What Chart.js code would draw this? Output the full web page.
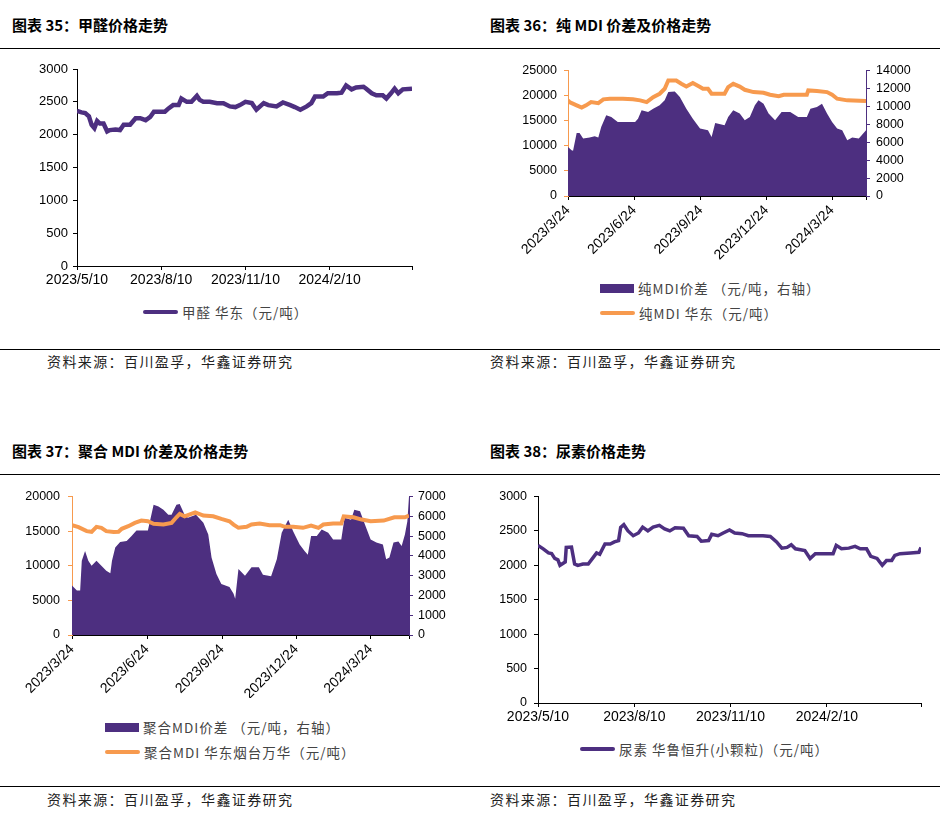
<!DOCTYPE html>
<html>
<head>
<meta charset="utf-8">
<script src="https://cdn.jsdelivr.net/npm/chart.js@4.4.1/dist/chart.umd.min.js"></script>
<style>
  body { margin: 0; background: #fff; width: 940px; height: 818px; position: relative; overflow: hidden; font-family: "Noto Sans CJK SC", sans-serif; }
  .t { position: absolute; font-weight: bold; font-size: 15px; line-height: 20px; color: #000; }
  .rule { position: absolute; left: 0; width: 940px; border-top: 1.5px solid #000; }
  .src { position: absolute; font-size: 14px; line-height: 20px; color: #222; letter-spacing: 1.4px; }
  .lg { position: absolute; height: 20px; font-size: 13.5px; color: #444; display: flex; align-items: center; white-space: pre; letter-spacing: 1px; }
  .box { width: 34px; height: 9px; background: #4D2F80; margin-right: 4px; }
  .ln { width: 35px; height: 4px; border-radius: 2px; margin-right: 4px; }
  canvas { position: absolute; }
</style>
</head>
<body>
<div class="t" style="left:12px;top:15px">图表 35：甲醛价格走势</div>
<div class="t" style="left:490px;top:15px">图表 36：纯 MDI 价差及价格走势</div>
<div class="t" style="left:12px;top:441px">图表 37：聚合 MDI 价差及价格走势</div>
<div class="t" style="left:490px;top:441px">图表 38：尿素价格走势</div>
<div class="rule" style="top:48px"></div>
<div class="rule" style="top:349px"></div>
<div class="rule" style="top:474px"></div>
<div class="rule" style="top:786px"></div>

<canvas id="c35" width="440" height="240" style="left:0;top:55px"></canvas>
<canvas id="c36" width="460" height="207" style="left:470px;top:56px"></canvas>
<canvas id="c37" width="455" height="217" style="left:0;top:481px"></canvas>
<canvas id="c38" width="460" height="249" style="left:470px;top:482px"></canvas>

<div class="lg" style="left:143px;top:302px"><div class="ln" style="background:#4D2F80"></div>甲醛 华东（元/吨）</div>
<div class="lg" style="left:600px;top:278px"><div class="box"></div>纯MDI价差 （元/吨，右轴）</div>
<div class="lg" style="left:600px;top:303px"><div class="ln" style="background:#F79A4E"></div>纯MDI 华东（元/吨）</div>
<div class="lg" style="left:105px;top:717px"><div class="box"></div>聚合MDI价差 （元/吨，右轴）</div>
<div class="lg" style="left:105px;top:742px"><div class="ln" style="background:#F79A4E"></div>聚合MDI 华东烟台万华（元/吨）</div>
<div class="lg" style="left:580px;top:739px"><div class="ln" style="background:#4D2F80"></div>尿素 华鲁恒升(小颗粒)（元/吨）</div>

<div class="src" style="left:47px;top:351px">资料来源：百川盈孚，华鑫证券研究</div>
<div class="src" style="left:490px;top:351px">资料来源：百川盈孚，华鑫证券研究</div>
<div class="src" style="left:47px;top:789px">资料来源：百川盈孚，华鑫证券研究</div>
<div class="src" style="left:490px;top:789px">资料来源：百川盈孚，华鑫证券研究</div>

<script>
// x positions are days since the first date of each chart
const ticksMay = [0, 92, 184, 276, 366];
const labelsMay = ['2023/5/10', '2023/8/10', '2023/11/10', '2024/2/10', ''];
const ticksMar = [0, 92, 184, 275, 366, 413];
const labelsMar = ['2023/3/24', '2023/6/24', '2023/9/24', '2023/12/24', '2024/3/24', ''];

// 甲醛 华东
const hchoDays = [0,5,9,13,16,19,22,25,29,33,36,42,47,51,58,64,69,75,80,84,91,96,100,105,111,114,120,125,131,134,138,145,153,160,167,173,178,184,191,196,204,209,218,225,233,238,244,251,256,260,269,274,284,289,294,300,305,313,316,322,327,334,338,343,347,351,356,366];
const hchoPrice = [2360,2340,2330,2280,2150,2100,2210,2170,2170,2050,2070,2080,2070,2150,2150,2250,2250,2220,2270,2350,2350,2350,2400,2450,2450,2550,2500,2500,2590,2530,2500,2500,2480,2480,2430,2420,2450,2500,2480,2380,2480,2450,2430,2490,2450,2420,2380,2430,2480,2580,2580,2630,2630,2640,2750,2690,2720,2730,2700,2630,2600,2600,2550,2630,2700,2630,2690,2700];

// 纯MDI 华东 (left axis)
const mdiDays = [0,2,12,19,25,32,42,49,58,76,90,100,109,118,127,134,139,150,157,164,173,183,187,194,199,217,222,229,238,245,257,271,280,292,299,317,331,333,345,359,366,373,387,413];
const mdiPrice = [19050,18700,18050,17600,18050,18700,18500,19250,19380,19380,19250,19050,18700,19700,20370,21360,23000,23000,22350,21800,22500,21700,21360,21360,20370,20370,21700,22350,21800,21160,20700,20570,20170,19900,20170,20170,20170,21030,20900,20700,20170,19380,19050,18900];
// 纯MDI价差 (right axis)
const mdiSpreadDays = [0,5,7,12,16,21,30,37,42,46,53,60,69,81,93,97,102,111,118,127,134,139,148,155,164,173,183,194,199,204,217,222,229,238,245,252,259,264,271,278,287,296,308,319,331,336,345,352,359,366,373,380,387,394,403,407,413];
const mdiSpread = [5480,5110,5040,7040,7040,6410,6520,6670,6520,7700,9000,8820,8260,8260,8260,8630,9560,9370,9740,10110,10670,11590,11670,11040,9740,8630,7520,7330,6590,8150,7890,8820,9560,9190,8450,8820,10110,10670,10300,9190,8450,9370,9370,8820,8820,9740,9930,10300,9190,8260,7520,7330,6220,6520,6410,6780,7330];

// 聚合MDI 华东烟台万华 (left axis)
const pmdiDays = [0,8,18,24,30,36,42,51,57,61,69,77,85,93,100,112,122,128,132,138,151,161,173,183,193,198,204,214,220,230,242,255,261,271,283,293,302,308,320,330,333,345,355,366,382,395,408,413];
const pmdiPrice = [15860,15570,15000,14900,15620,15480,15000,14860,14900,15330,15710,16190,16520,16430,16050,15950,16190,17000,17480,17140,17710,17240,17140,16760,16430,15950,15480,15620,15950,16090,15860,15860,15620,15620,15480,15810,15480,15950,16090,16090,17140,17000,16670,16430,16520,17000,17000,17240];
// 聚合MDI价差 (right axis)
const pmdiSpreadDays = [0,6,10,12,16,20,24,30,36,42,47,49,53,59,67,73,79,87,93,100,106,112,118,122,128,132,138,142,152,161,167,171,177,183,193,198,200,204,212,220,229,234,244,251,257,265,271,279,285,289,293,300,306,314,320,330,334,342,346,353,359,366,373,381,385,389,394,400,404,408,411,413];
const pmdiSpread = [2500,2250,2250,3750,4250,3750,3500,3750,3500,3250,3120,3750,4420,4700,4750,5000,5280,5280,5280,6580,6500,6330,6080,6080,6580,6620,6080,5920,6080,5670,5080,3920,3080,2580,2420,2080,1830,3330,3000,3420,3420,3050,2970,3830,5170,5830,5250,4580,4250,4050,5000,5000,5330,5170,4830,4830,5920,5830,6330,6250,5580,4830,4670,4580,3830,3920,4670,4720,4500,5080,5750,7000];

// 尿素 华鲁恒升(小颗粒)
const ureaDays = [0,5,10,13,16,19,21,26,27,32,35,38,43,48,53,56,59,64,69,73,77,79,82,86,91,96,100,105,110,116,121,126,131,139,144,152,156,163,166,172,177,183,188,195,201,206,215,222,228,233,238,242,246,255,260,265,273,282,285,290,297,303,308,314,318,324,329,333,338,341,346,356,364,366];
const ureaPrice = [2290,2240,2180,2170,2100,2080,2000,2050,2260,2265,2020,2000,2020,2020,2120,2180,2160,2310,2310,2340,2360,2550,2590,2500,2430,2470,2555,2500,2555,2580,2530,2500,2545,2540,2430,2420,2350,2360,2450,2430,2470,2515,2470,2460,2430,2430,2430,2420,2340,2250,2260,2300,2240,2215,2100,2170,2170,2170,2290,2240,2250,2275,2240,2240,2130,2100,2000,2070,2070,2145,2170,2180,2190,2260];

const PURPLE = '#4D2F80';
const ORANGE = '#F79A4E';
const numFont = { family: '"Liberation Sans", Arial, sans-serif', size: 12.5 };
const dateFont = { family: '"Liberation Sans", Arial, sans-serif', size: 14 };

function pts(days, vals) {
  return days.map((d, i) => ({ x: d, y: vals[i] }));
}

function xAxis(max, tickDays, tickLabels, h, rot) {
  return {
    type: 'linear', min: 0, max: max,
    afterBuildTicks: s => { s.ticks = tickDays.map(v => ({ value: v })); },
    afterFit: s => { s.height = h; },
    border: { color: '#000', width: 1 },
    grid: { drawOnChartArea: false, tickLength: 4, color: '#000' },
    ticks: { autoSkip: false, maxRotation: rot, minRotation: rot, padding: 2, color: '#000', font: dateFont,
      callback: (v, i) => tickLabels[i] }
  };
}

function yAxis(pos, max, step, w, color, pad, size) {
  return {
    position: pos, min: 0, max: max,
    afterFit: s => { s.width = w; },
    border: { color: color, width: 1 },
    grid: { drawOnChartArea: false, tickLength: 4, color: color },
    ticks: { stepSize: step, autoSkip: false, color: '#000', padding: pad,
      font: Object.assign({}, numFont, size ? { size: size } : {}),
      callback: v => String(v) }
  };
}

const baseOpts = {
  responsive: false,
  animation: false,
  plugins: { legend: { display: false }, tooltip: { enabled: false } }
};

// 图表 35
new Chart(document.getElementById('c35'), {
  type: 'line',
  data: { datasets: [{
    data: pts(hchoDays, hchoPrice), borderColor: PURPLE, borderWidth: 4.5, pointRadius: 0, tension: 0
  }] },
  options: Object.assign({}, baseOpts, {
    layout: { padding: { top: 14, right: 28 } },
    scales: {
      x: xAxis(366, ticksMay, labelsMay, 29, 0),
      y: yAxis('left', 3000, 500, 77, '#000', 5, 13)
    }
  })
});

// 图表 36
new Chart(document.getElementById('c36'), {
  type: 'line',
  data: { datasets: [
    { data: pts(mdiDays, mdiPrice), yAxisID: 'y', borderColor: ORANGE, borderWidth: 4, pointRadius: 0, tension: 0, order: 1 },
    { data: pts(mdiSpreadDays, mdiSpread), yAxisID: 'y1', borderWidth: 0, borderColor: PURPLE, backgroundColor: PURPLE, fill: 'origin', pointRadius: 0, tension: 0, order: 2 }
  ] },
  options: Object.assign({}, baseOpts, {
    layout: { padding: { top: 14 } },
    scales: {
      x: xAxis(413, ticksMar, labelsMar, 67, 45),
      y: yAxis('left', 25000, 5000, 98, ORANGE, 7),
      y1: yAxis('right', 14000, 2000, 64, PURPLE, 6)
    }
  })
});

// 图表 37
new Chart(document.getElementById('c37'), {
  type: 'line',
  data: { datasets: [
    { data: pts(pmdiDays, pmdiPrice), yAxisID: 'y', borderColor: ORANGE, borderWidth: 4, pointRadius: 0, tension: 0, order: 1 },
    { data: pts(pmdiSpreadDays, pmdiSpread), yAxisID: 'y1', borderWidth: 0, borderColor: PURPLE, backgroundColor: PURPLE, fill: 'origin', pointRadius: 0, tension: 0, order: 2 }
  ] },
  options: Object.assign({}, baseOpts, {
    layout: { padding: { top: 14 } },
    scales: {
      x: xAxis(413, ticksMar, labelsMar, 63, 45),
      y: yAxis('left', 20000, 5000, 72, ORANGE, 8),
      y1: yAxis('right', 7000, 1000, 46, PURPLE, 5)
    }
  })
});

// 图表 38
new Chart(document.getElementById('c38'), {
  type: 'line',
  data: { datasets: [{
    data: pts(ureaDays, ureaPrice), borderColor: PURPLE, borderWidth: 3.5, pointRadius: 0, tension: 0
  }] },
  options: Object.assign({}, baseOpts, {
    layout: { padding: { top: 14, right: 9 } },
    scales: {
      x: xAxis(366, ticksMay, labelsMay, 28, 0),
      y: yAxis('left', 3000, 500, 68, '#000', 7)
    }
  })
});
</script>
</body>
</html>
